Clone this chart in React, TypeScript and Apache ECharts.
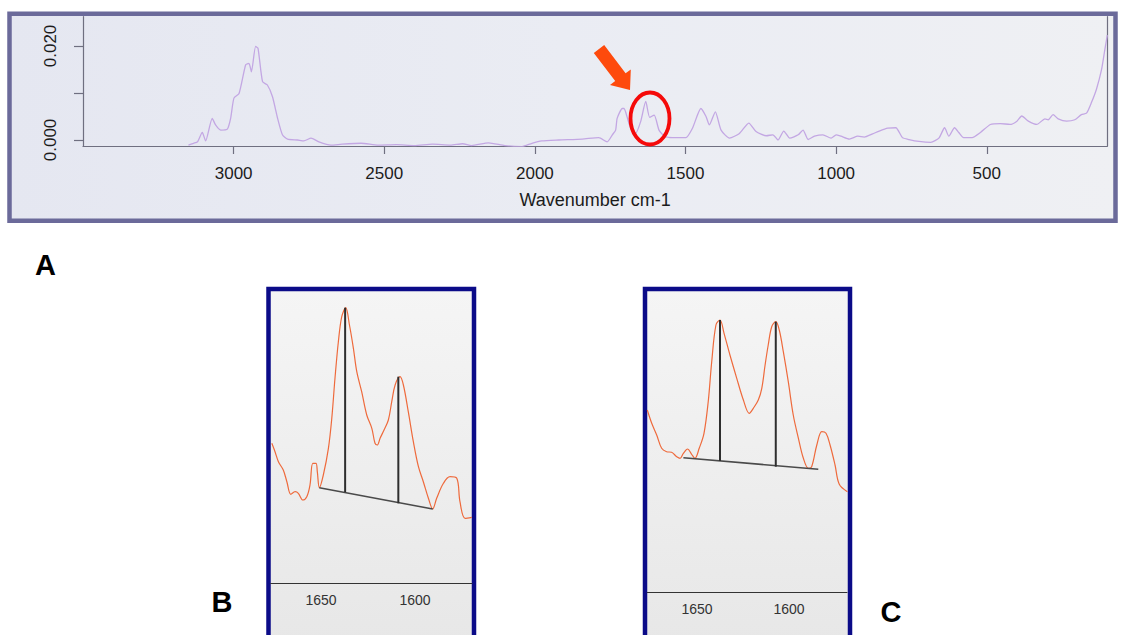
import React, { useEffect, useRef } from "react";
import * as echarts from "echarts";

// ---------- Panel A: full spectrum ----------
const aWavenumber = [
  3150, 3133, 3120, 3104, 3093, 3071, 3060, 3043, 3021, 3010, 2999, 2982, 2960, 2949, 2941, 2927, 2919, 2904,
  2888, 2871, 2854, 2838, 2821, 2788, 2767, 2743, 2717, 2677, 2640, 2577, 2520, 2460, 2400, 2340, 2280, 2240,
  2210, 2154, 2100, 2043, 2010, 1977, 1921, 1843, 1788, 1760, 1743, 1732, 1727, 1710, 1704, 1699, 1682, 1666,
  1649, 1632, 1619, 1604, 1588, 1570, 1543, 1499, 1477, 1449, 1432, 1421, 1401, 1382, 1354, 1321, 1290, 1266,
  1232, 1210, 1193, 1174, 1154, 1126, 1110, 1093, 1072, 1044, 1017, 1000, 984, 956, 928, 907, 879, 857, 829,
  802, 780, 758, 725, 686, 659, 640, 626, 607, 593, 577, 549, 521, 488, 455, 423, 400, 384, 362, 334, 307, 296,
  280, 263, 235, 208, 186, 169, 153, 136, 119, 108, 100,
];
const aAbsorbance = [
  -0.0011, -0.0007, -0.0004, 0.0016, -0.0002, 0.0046, 0.0032, 0.0021, 0.0023, 0.0046, 0.0089, 0.0099, 0.016,
  0.0163, 0.0145, 0.0199, 0.0195, 0.0124, 0.0117, 0.0092, 0.0046, 0.0011, 0.0002, 0.0, -0.0002, 0.0004, -0.0004,
  -0.0011, -0.0009, -0.0007, -0.0011, -0.001, -0.0012, -0.0009, -0.0011, -0.0008, -0.0012, -0.0006, -0.0012,
  -0.0014, -0.0007, -0.0002, 0.0, 0.0002, 0.0005, -0.0004, 0.0011, 0.0021, 0.0046, 0.0067, 0.0067, 0.006, 0.0025,
  0.0014, 0.0039, 0.0082, 0.0048, 0.0053, 0.0021, 0.0008, 0.0005, 0.0005, 0.0025, 0.0067, 0.005, 0.0032, 0.006,
  0.0021, 0.0004, 0.0014, 0.0036, 0.0018, 0.0009, 0.0011, 0.0, 0.0019, 0.0004, 0.0011, 0.0021, 0.0001, 0.0008,
  0.0011, 0.0004, 0.0011, 0.0008, 0.0002, 0.0008, 0.0006, 0.0013, 0.0019, 0.0025, 0.0026, 0.0005, 0.0001,
  -0.0003, -0.0005, 0.0004, 0.0026, 0.0008, 0.0026, 0.0016, 0.0005, 0.0005, 0.0016, 0.0033, 0.0035, 0.0033,
  0.004, 0.0051, 0.004, 0.0033, 0.0045, 0.0043, 0.0054, 0.0045, 0.004, 0.0043, 0.0054, 0.0057, 0.0079, 0.0108,
  0.015, 0.0193, 0.0223,
];
const aTicks = [3000, 2500, 2000, 1500, 1000, 500];
const aYTicks = [0, 0.01, 0.02];
const aYLabels = [0, 0.02];

// ---------- Panel B: zoom of 1680-1570 cm-1 ----------
const bWavenumber = [
  1676.2, 1674.5, 1672.7, 1670.1, 1668.2, 1666.1, 1663.8, 1662.1, 1659.7, 1657.6, 1655.9, 1654.4, 1652.7, 1652.0,
  1650.9, 1648.8, 1646.1, 1644.3, 1642.6, 1640.8, 1639.0, 1636.9, 1634.9, 1632.8, 1631.0, 1628.4, 1625.7, 1623.0,
  1621.3, 1620.1, 1618.6, 1616.5, 1614.2, 1612.4, 1610.6, 1608.0, 1606.2, 1603.6, 1600.9, 1598.2, 1595.6, 1592.9,
  1590.6, 1588.5, 1584.9, 1581.4, 1577.8, 1576.1, 1573.4, 1569.8,
];
const bIntensity = [
  1.397, 1.313, 1.213, 1.13, 1.013, 0.887, 0.913, 0.897, 0.83, 0.863, 0.98, 1.197, 1.197, 1.113, 0.953, 1.08,
  1.347, 1.647, 2.047, 2.413, 2.663, 2.753, 2.58, 2.347, 2.113, 1.913, 1.68, 1.547, 1.397, 1.38, 1.447, 1.53,
  1.63, 1.813, 1.98, 2.063, 1.98, 1.713, 1.413, 1.163, 1.013, 0.847, 0.74, 0.847, 0.997, 1.063, 1.047, 0.813,
  0.647, 0.657,
];
const bBaseline = [[1650.9, 0.953], [1590.6, 0.74]];
const bPeak1 = [[1637.2, 0.907], [1637.2, 2.753]];
const bPeak2 = [[1608.9, 0.797], [1608.9, 2.063]];

// ---------- Panel C ----------
const cWavenumber = [
  1677.0, 1674.6, 1671.9, 1669.2, 1666.5, 1663.8, 1661.0, 1659.2, 1657.4, 1655.1, 1652.9, 1651.1, 1648.8, 1646.2,
  1643.9, 1642.0, 1639.7, 1637.5, 1635.3, 1632.1, 1628.4, 1624.8, 1621.6, 1619.4, 1616.7, 1614.8, 1613.0, 1611.3,
  1609.4, 1607.2, 1605.3, 1603.1, 1600.4, 1597.7, 1594.9, 1592.2, 1589.5, 1587.7, 1584.9, 1582.2, 1579.9, 1577.7,
  1575.0, 1572.7, 1568.3,
];
const cIntensity = [
  1.82, 1.687, 1.57, 1.437, 1.403, 1.397, 1.353, 1.337, 1.387, 1.43, 1.377, 1.337, 1.437, 1.587, 1.903, 2.303,
  2.67, 2.72, 2.587, 2.37, 2.137, 1.92, 1.787, 1.837, 1.92, 2.037, 2.27, 2.47, 2.653, 2.703, 2.62, 2.403, 2.103,
  1.77, 1.537, 1.337, 1.237, 1.253, 1.47, 1.603, 1.587, 1.47, 1.27, 1.077, 1.003,
];
const cBaseline = [[1657.4, 1.343], [1584.1, 1.227]];
const cPeak1 = [[1637.5, 1.31], [1637.5, 2.72]];
const cPeak2 = [[1607.2, 1.253], [1607.2, 2.703]];
const zoomTicks = [1650, 1600];

const FONT = '"Liberation Sans", Arial, Helvetica, sans-serif';

function zip(xs: number[], ys: number[]) {
  return xs.map((x, i) => [x, ys[i]]);
}

export default function App() {
  const ref = useRef<HTMLDivElement>(null);
  useEffect(() => {
    if (!ref.current) return;
    const chart = echarts.init(ref.current, null, { renderer: "svg" });
    const axisGray = "#6f6f80";
    const plain = (v: number) => String(v);
    const lineSeries = (
      name: string,
      data: any,
      xi: number,
      yi: number,
      color: string,
      width: number,
      z = 3,
      smooth: any = false
    ) => ({
      name,
      type: "line",
      xAxisIndex: xi,
      yAxisIndex: yi,
      data,
      symbol: "none",
      showSymbol: false,
      smooth,
      lineStyle: { color, width },
      z,
      silent: true,
    });
    const option: any = {
      animation: false,
      textStyle: { fontFamily: FONT },
      grid: [
        { left: 83, top: 16.7, right: 18.7, bottom: 489, containLabel: false },
        { left: 270.7, top: 291, width: 201.3, height: 292, containLabel: false },
        { left: 647.3, top: 291, width: 199.7, height: 301, containLabel: false },
      ],
      xAxis: [
        {
          gridIndex: 0,
          type: "value",
          inverse: true,
          min: 100,
          max: 3500,
          axisLine: { show: true, onZero: false, lineStyle: { color: axisGray, width: 1.2 } },
          axisTick: { show: true, length: 8, customValues: aTicks, lineStyle: { color: axisGray, width: 1.2 } },
          axisLabel: {
            customValues: aTicks,
            fontSize: 17,
            color: "#1c1c1c",
            margin: 19,
            fontFamily: FONT,
            formatter: plain,
          },
          splitLine: { show: false },
          name: "Wavenumber cm-1",
          nameLocation: "middle",
          nameGap: 45,
          nameTextStyle: { fontSize: 18, color: "#1c1c1c", fontFamily: FONT },
        },
        {
          gridIndex: 1,
          type: "value",
          inverse: true,
          min: 1569.7,
          max: 1676.8,
          axisLine: { show: true, onZero: false, lineStyle: { color: "#333", width: 1 } },
          axisTick: { show: false },
          axisLabel: {
            customValues: zoomTicks,
            fontSize: 14,
            color: "#333",
            margin: 10,
            fontFamily: FONT,
            formatter: plain,
          },
          splitLine: { show: false },
        },
        {
          gridIndex: 2,
          type: "value",
          inverse: true,
          min: 1568.5,
          max: 1677,
          axisLine: { show: true, onZero: false, lineStyle: { color: "#333", width: 1 } },
          axisTick: { show: false },
          axisLabel: {
            customValues: zoomTicks,
            fontSize: 14,
            color: "#333",
            margin: 10,
            fontFamily: FONT,
            formatter: plain,
          },
          splitLine: { show: false },
        },
      ],
      yAxis: [
        {
          gridIndex: 0,
          type: "value",
          min: -0.00128,
          max: 0.02623,
          axisLine: { show: true, onZero: false, lineStyle: { color: axisGray, width: 1.2 } },
          axisTick: { show: true, length: 9, customValues: aYTicks, lineStyle: { color: axisGray, width: 1.2 } },
          axisLabel: {
            customValues: aYLabels,
            rotate: 90,
            fontSize: 17,
            color: "#1c1c1c",
            margin: 24,
            fontFamily: FONT,
            formatter: (v: number) => v.toFixed(3),
          },
          splitLine: { show: false },
        },
        {
          gridIndex: 0,
          type: "value",
          position: "right",
          min: -0.00128,
          max: 0.02623,
          axisLine: { show: true, onZero: false, lineStyle: { color: axisGray, width: 1.2 } },
          axisTick: { show: false },
          axisLabel: { show: false },
          splitLine: { show: false },
        },
        { gridIndex: 1, type: "value", min: 0, max: 2.92, show: false, splitLine: { show: false } },
        { gridIndex: 2, type: "value", min: 0, max: 3.01, show: false, splitLine: { show: false } },
      ],
      series: [
        lineSeries("A spectrum", zip(aWavenumber, aAbsorbance), 0, 0, "#c3a7e3", 1.3, 3, 0.2),
        lineSeries("B spectrum", zip(bWavenumber, bIntensity), 1, 2, "#ee6a3c", 1.2, 3, 0.35),
        lineSeries("B baseline", bBaseline, 1, 2, "#4a4a4a", 1.6, 4),
        lineSeries("B peak 1", bPeak1, 1, 2, "#2e2e2e", 2, 4),
        lineSeries("B peak 2", bPeak2, 1, 2, "#2e2e2e", 2, 4),
        lineSeries("C spectrum", zip(cWavenumber, cIntensity), 2, 3, "#ee6a3c", 1.2, 3, 0.35),
        lineSeries("C baseline", cBaseline, 2, 3, "#4a4a4a", 1.6, 4),
        lineSeries("C peak 1", cPeak1, 2, 3, "#2e2e2e", 2, 4),
        lineSeries("C peak 2", cPeak2, 2, 3, "#2e2e2e", 2, 4),
      ],
      graphic: [
        {
          type: "rect",
          z: -1,
          silent: true,
          shape: { x: 9.5, y: 13.8, width: 1106, height: 207 },
          style: {
            fill: {
              type: "linear",
              x: 0,
              y: 0,
              x2: 1,
              y2: 0,
              colorStops: [
                { offset: 0, color: "#e5e7f1" },
                { offset: 0.5, color: "#eaecf3" },
                { offset: 1, color: "#eff0f3" },
              ],
            },
            stroke: "#6b6a9a",
            lineWidth: 4.5,
          },
        },
        {
          type: "rect",
          z: -1,
          silent: true,
          shape: { x: 268.5, y: 289, width: 205.5, height: 360 },
          style: {
            fill: {
              type: "linear",
              x: 0,
              y: 0,
              x2: 0,
              y2: 1,
              colorStops: [
                { offset: 0, color: "#f5f5f5" },
                { offset: 1, color: "#e7e7e7" },
              ],
            },
            stroke: "#0b0b88",
            lineWidth: 4.5,
          },
        },
        {
          type: "rect",
          z: -1,
          silent: true,
          shape: { x: 645, y: 289, width: 205, height: 360 },
          style: {
            fill: {
              type: "linear",
              x: 0,
              y: 0,
              x2: 0,
              y2: 1,
              colorStops: [
                { offset: 0, color: "#f5f5f5" },
                { offset: 1, color: "#e7e7e7" },
              ],
            },
            stroke: "#0b0b88",
            lineWidth: 4.5,
          },
        },
        {
          type: "polygon",
          z: 100,
          silent: true,
          shape: {
            points: [
              [604.2, 45.1],
              [625.6, 73.3],
              [630.8, 69.4],
              [630, 90],
              [610.0, 85.0],
              [615.2, 81.1],
              [593.8, 52.9],
            ],
          },
          style: { fill: "#fe4a0c" },
        },
        {
          type: "ellipse",
          z: 100,
          silent: true,
          shape: { cx: 650, cy: 118.5, rx: 19.5, ry: 26 },
          style: { fill: "none", stroke: "#f50a0a", lineWidth: 3.8 },
        },
        {
          type: "text",
          z: 100,
          silent: true,
          style: {
            text: "A",
            x: 45.5,
            y: 264.5,
            fill: "#000",
            font: `bold 29px ${FONT}`,
            align: "center",
            verticalAlign: "middle",
          },
        },
        {
          type: "text",
          z: 100,
          silent: true,
          style: {
            text: "B",
            x: 222,
            y: 601.5,
            fill: "#000",
            font: `bold 29px ${FONT}`,
            align: "center",
            verticalAlign: "middle",
          },
        },
        {
          type: "text",
          z: 100,
          silent: true,
          style: {
            text: "C",
            x: 891,
            y: 612,
            fill: "#000",
            font: `bold 29px ${FONT}`,
            align: "center",
            verticalAlign: "middle",
          },
        },
      ],
    };
    chart.setOption(option);
    return () => chart.dispose();
  }, []);
  return (
    <div
      ref={ref}
      style={{ position: "absolute", left: 0, top: 0, width: 1126, height: 635, background: "#ffffff" }}
    />
  );
}
